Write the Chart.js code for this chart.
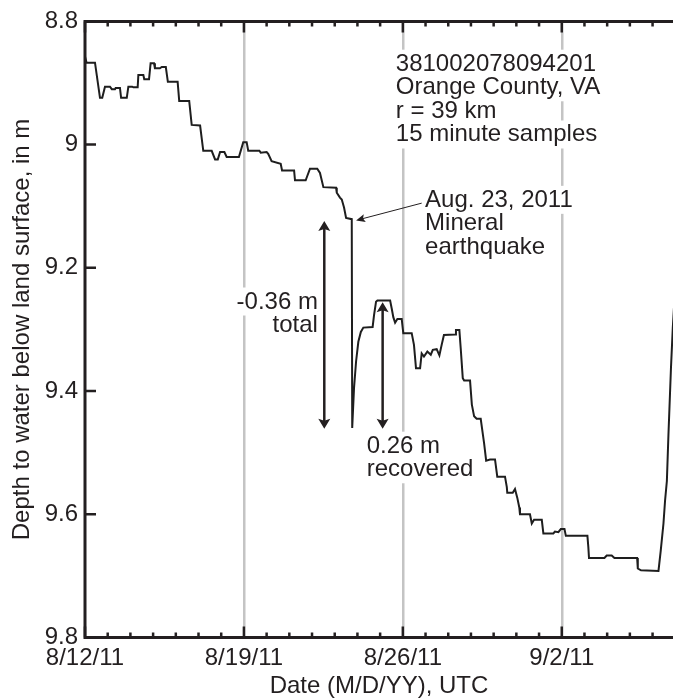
<!DOCTYPE html>
<html>
<head>
<meta charset="utf-8">
<script src="https://cdn.jsdelivr.net/npm/chart.js@4.4.1/dist/chart.umd.min.js"></script>
<style>
    body { margin: 0; background: #fff; }
    #grafico { display: block; }
</style>
</head>
<body>
<canvas id="grafico" width="673" height="700"></canvas>
<script>
// giorni dal 12/8/2011 00:00 UTC
const giorni = [
    0.00, 0.07, 0.44, 0.66, 0.76, 0.88, 1.10, 1.18, 1.32, 1.35, 1.54, 1.59, 1.84, 1.91, 2.08, 2.13, 2.32, 2.35, 2.57, 2.61,
    2.82, 2.89, 3.04, 3.08, 3.30, 3.38, 3.56, 3.65, 4.08, 4.15, 4.59, 4.70, 5.07, 5.21, 5.58, 5.73, 5.85, 5.95, 6.14, 6.24,
    6.78, 6.97, 7.12, 7.19, 7.68, 7.74, 8.00, 8.07, 8.22, 8.62, 8.68, 9.21, 9.25, 9.72, 9.77, 9.91, 10.23, 10.35, 10.50, 11.06,
    11.09, 11.23, 11.31, 11.41, 11.50, 11.75, 11.77, 11.85, 11.94, 12.04, 12.15, 12.26, 12.67, 12.73, 12.82, 12.88, 13.44, 13.51, 13.58, 13.66,
    13.76, 13.95, 14.02, 14.39, 14.49, 14.58, 14.76, 14.83, 14.93, 15.08, 15.23, 15.32, 15.49, 15.61, 15.71, 15.81, 16.30, 16.34, 16.49, 16.55,
    16.64, 16.70, 16.96, 17.04, 17.14, 17.25, 17.43, 17.58, 17.67, 17.84, 18.06, 18.16, 18.50, 18.58, 18.60, 18.84, 18.94, 19.04, 19.13, 19.16,
    19.60, 19.68, 19.78, 20.12, 20.19, 20.63, 20.70, 20.85, 20.96, 21.12, 21.18, 22.13, 22.17, 22.20, 22.88, 22.98, 23.20, 23.32, 24.32, 24.35,
    24.49, 25.26, 25.36, 25.48, 25.55, 25.63, 25.70, 25.81, 25.89, 25.95
];
// profondità dell'acqua (m)
const livelli = [
    8.857, 8.867, 8.867, 8.924, 8.924, 8.906, 8.906, 8.910, 8.910, 8.908, 8.908, 8.924, 8.924, 8.906, 8.906, 8.907, 8.907, 8.887, 8.887, 8.894,
    8.894, 8.868, 8.868, 8.876, 8.876, 8.874, 8.874, 8.898, 8.898, 8.929, 8.929, 8.968, 8.969, 9.010, 9.010, 9.024, 9.024, 9.012, 9.012, 9.020,
    9.020, 8.996, 8.996, 9.010, 9.010, 9.013, 9.012, 9.015, 9.027, 9.031, 9.042, 9.042, 9.058, 9.058, 9.053, 9.039, 9.039, 9.046, 9.069, 9.070,
    9.078, 9.086, 9.089, 9.102, 9.119, 9.121, 9.460, 9.395, 9.352, 9.320, 9.304, 9.297, 9.296, 9.277, 9.255, 9.253, 9.253, 9.266, 9.280, 9.289,
    9.283, 9.283, 9.306, 9.306, 9.325, 9.363, 9.363, 9.339, 9.344, 9.336, 9.341, 9.333, 9.332, 9.342, 9.325, 9.309, 9.308, 9.301, 9.301, 9.331,
    9.379, 9.383, 9.383, 9.422, 9.441, 9.445, 9.445, 9.485, 9.513, 9.511, 9.511, 9.539, 9.539, 9.556, 9.565, 9.565, 9.559, 9.573, 9.589, 9.600,
    9.600, 9.615, 9.609, 9.609, 9.631, 9.631, 9.628, 9.629, 9.624, 9.624, 9.635, 9.635, 9.653, 9.671, 9.671, 9.667, 9.667, 9.671, 9.671, 9.688,
    9.691, 9.692, 9.659, 9.615, 9.578, 9.546, 9.470, 9.363, 9.298, 9.260
];

const giorniEtichette = [0, 7, 14, 21];
const etichetteDate = ['8/12/11', '8/19/11', '8/26/11', '9/2/11'];
const tickProfondita = [8.8, 9, 9.2, 9.4, 9.6, 9.8];

// annotazioni, ancorate in unità dei dati
const testi = [
    { giorno: 13.69, livello: 8.880, allinea: 'left', righe: ['381002078094201', 'Orange County, VA', 'r = 39 km', '15 minute samples'] },
    { giorno: 14.98, livello: 9.101, allinea: 'left', righe: ['Aug. 23, 2011', 'Mineral', 'earthquake'] },
    { giorno: 10.26, livello: 9.266, allinea: 'right', righe: ['-0.36 m', 'total'] },
    { giorno: 12.41, livello: 9.500, allinea: 'left', righe: ['0.26 m', 'recovered'] }
];
const frecceDoppie = [
    { giorno: 10.54, da: 9.124, a: 9.461 },
    { giorno: 13.11, da: 9.256, a: 9.461 }
];
const frecciaTerremoto = { da: [14.83, 9.095], a: [11.94, 9.123] };

const NERO = '#231f20';
const FONT = '"Liberation Sans", Arial, Helvetica, sans-serif';

Chart.defaults.font.family = FONT;
Chart.defaults.font.size = 24;
Chart.defaults.color = NERO;

function punta(ctx, x, y, angolo, lung, larg) {
    ctx.save();
    ctx.translate(x, y);
    ctx.rotate(angolo);
    ctx.beginPath();
    ctx.moveTo(0, 0);
    ctx.lineTo(-lung, -larg);
    ctx.lineTo(-lung * 0.8, 0);
    ctx.lineTo(-lung, larg);
    ctx.closePath();
    ctx.fill();
    ctx.restore();
}

const annotazioni = {
    id: 'annotazioni',
    afterDatasetsDraw(chart) {
        const { ctx, chartArea: a, scales: { x, y } } = chart;
        ctx.save();

        // testi con sfondo bianco (interrompono le linee grigie)
        ctx.font = '24px ' + FONT;
        const righe = [];
        testi.forEach(b => {
            const px = x.getPixelForValue(b.giorno);
            const py = y.getPixelForValue(b.livello);
            b.righe.forEach((t, i) => {
                const w = ctx.measureText(t).width;
                righe.push({ t: t, left: b.allinea === 'right' ? px - w : px, base: py + i * 23.6, w: w });
            });
        });
        ctx.fillStyle = '#fff';
        righe.forEach(r => ctx.fillRect(r.left - 3, r.base - 21, r.w + 6, 28));
        ctx.fillStyle = NERO;
        ctx.textBaseline = 'alphabetic';
        ctx.textAlign = 'left';
        righe.forEach(r => ctx.fillText(r.t, r.left, r.base));

        // frecce doppie
        ctx.strokeStyle = NERO;
        ctx.fillStyle = NERO;
        frecceDoppie.forEach(f => {
            const px = x.getPixelForValue(f.giorno);
            const y1 = y.getPixelForValue(f.da);
            const y2 = y.getPixelForValue(f.a);
            ctx.lineWidth = 2.5;
            ctx.beginPath();
            ctx.moveTo(px, y1 + 6);
            ctx.lineTo(px, y2 - 6);
            ctx.stroke();
            punta(ctx, px, y1, -Math.PI / 2, 10, 6);
            punta(ctx, px, y2, Math.PI / 2, 10, 6);
        });

        // freccia sottile verso il terremoto
        const x1 = x.getPixelForValue(frecciaTerremoto.da[0]);
        const y1 = y.getPixelForValue(frecciaTerremoto.da[1]);
        const x2 = x.getPixelForValue(frecciaTerremoto.a[0]);
        const y2 = y.getPixelForValue(frecciaTerremoto.a[1]);
        const ang = Math.atan2(y2 - y1, x2 - x1);
        ctx.lineWidth = 1;
        ctx.beginPath();
        ctx.moveTo(x1, y1);
        ctx.lineTo(x2 - 6 * Math.cos(ang), y2 - 6 * Math.sin(ang));
        ctx.stroke();
        punta(ctx, x2, y2, ang, 9, 4);

        // assi con tacche verso l'interno
        ctx.lineWidth = 3;
        ctx.lineCap = 'square';
        ctx.beginPath();
        ctx.moveTo(a.left, a.bottom);
        ctx.lineTo(a.left, a.top);
        ctx.lineTo(a.right + 2, a.top);
        ctx.moveTo(a.left, a.bottom);
        ctx.lineTo(a.right + 2, a.bottom);
        ctx.stroke();

        ctx.lineCap = 'butt';
        ctx.lineWidth = 2.5;
        ctx.beginPath();
        x.ticks.forEach(t => {
            const px = x.getPixelForValue(t.value);
            const l = (t.value % 7 === 0) ? 11 : 5;
            ctx.moveTo(px, a.top);
            ctx.lineTo(px, a.top + l);
            ctx.moveTo(px, a.bottom);
            ctx.lineTo(px, a.bottom - l);
        });
        y.ticks.forEach(t => {
            const py = y.getPixelForValue(t.value);
            ctx.moveTo(a.left, py);
            ctx.lineTo(a.left + 11, py);
        });
        ctx.stroke();
        ctx.restore();
    }
};

const myChart = new Chart(document.getElementById('grafico').getContext('2d'), {
    type: 'line',
    data: {
        datasets: [{
            data: giorni.map((g, i) => ({ x: g, y: livelli[i] })),
            borderColor: '#1e1e1e',
            borderWidth: 2,
            pointRadius: 0,
            tension: 0,
            fill: false
        }]
    },
    options: {
        responsive: false,
        animation: false,
        layout: { padding: { top: 17, right: 0, bottom: 0, left: 0 } },
        plugins: {
            legend: { display: false },
            tooltip: { enabled: false }
        },
        scales: {
            x: {
                type: 'linear',
                min: 0,
                max: 25.9,
                afterFit: s => { s.height = 62.5; },
                ticks: {
                    stepSize: 1,
                    autoSkip: false,
                    includeBounds: false,
                    maxRotation: 0,
                    padding: 6,
                    callback: v => {
                        const i = giorniEtichette.indexOf(v);
                        return i >= 0 ? etichetteDate[i] : '';
                    }
                },
                grid: {
                    drawTicks: false,
                    lineWidth: 2.5,
                    color: c => (c.tick && c.tick.value > 0 && c.tick.value % 7 === 0) ? '#c4c4c4' : 'rgba(0,0,0,0)'
                },
                border: { display: false },
                title: {
                    display: true,
                    text: 'Date (M/D/YY), UTC',
                    padding: { top: 0, bottom: -1 }
                }
            },
            y: {
                reverse: true,
                min: 8.8,
                max: 9.8,
                afterFit: s => { s.width = 85; },
                afterBuildTicks: s => { s.ticks = tickProfondita.map(v => ({ value: v })); },
                ticks: {
                    padding: 7,
                    callback: v => String(v)
                },
                grid: { display: false, drawTicks: false },
                border: { display: false },
                title: {
                    display: true,
                    text: 'Depth to water below land surface, in m',
                    padding: { top: 8, bottom: 0 }
                }
            }
        }
    },
    plugins: [annotazioni]
});
</script>
</body>
</html>
